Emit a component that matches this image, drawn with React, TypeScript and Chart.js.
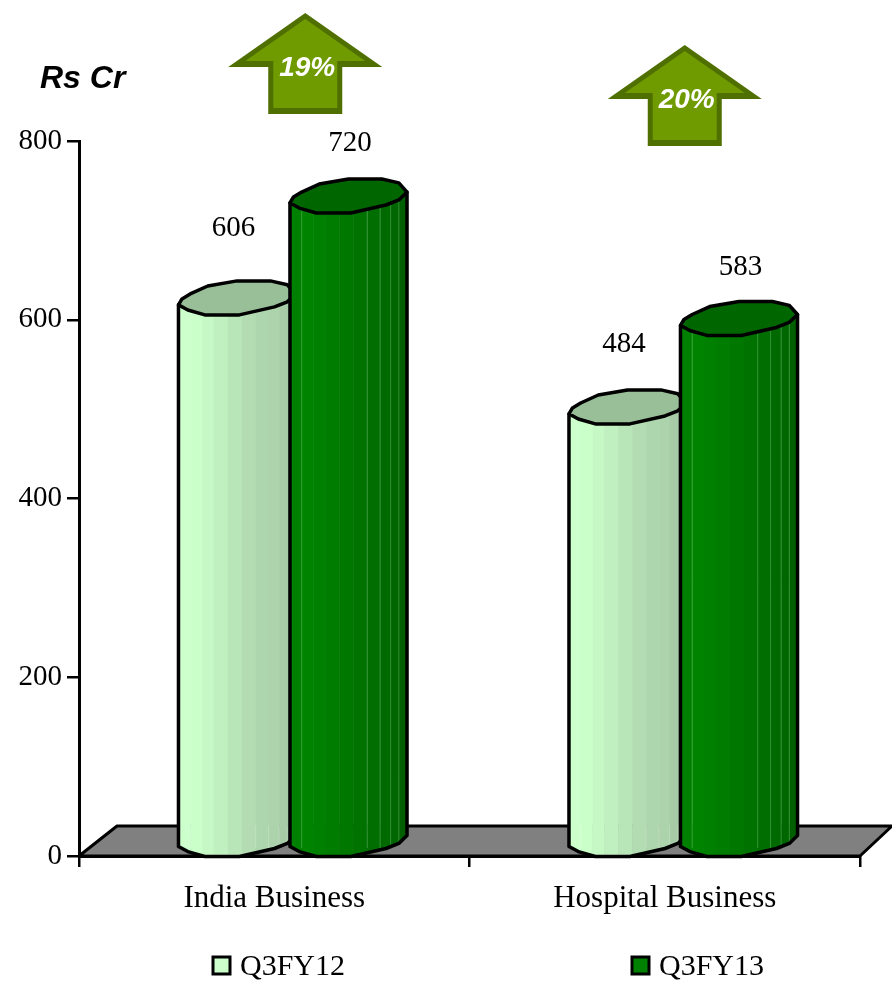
import React, { useEffect, useRef } from "react";
import { Chart, registerables } from "chart.js";

Chart.register(...registerables);

const categories = ["India Business", "Hospital Business"];
const seriesNames = ["Q3FY12", "Q3FY13"];
const q3fy12 = [606, 484];
const q3fy13 = [720, 583];
const growthLabels = ["19%", "20%"];
const yTicks = [0, 200, 400, 600, 800];
const unitLabel = "Rs Cr";

const SERIF = "'Liberation Serif', serif";
const SANS = "'Liberation Sans', sans-serif";

const lightBands = ["#ccffcc", "#caffca", "#c6f8c6", "#c0f0c0", "#b9e6b9", "#b3dcb3", "#aed6ae", "#acd3ac", "#a6cba6", "#a0c3a0"];
const darkBands = ["#008000", "#008400", "#008000", "#007c00", "#007800", "#007200", "#006e00", "#006a00", "#006600", "#006000"];
const bandEdges = [0, 0.1, 0.2, 0.3, 0.42, 0.54, 0.66, 0.77, 0.86, 0.93, 1];
const lightTop = "#99bf99";
const darkTop = "#006600";
const labelLift = [[86, 79], [69, 68]];
const labelShift = [15, 20];

// outline of the tilted polygonal cylinder cap, in half-width/half-height units
const capShape: [number, number][] = [
  [-1, 0.38], [-0.94, 0.03], [-0.8, -0.26], [-0.5, -0.73], [0, -1.03], [0.57, -1.03], [0.86, -0.8],
  [1, -0.26], [0.86, 0.2], [0.64, 0.5], [0.04, 0.97], [-0.55, 0.97], [-0.84, 0.68],
];
const frontCurve: [number, number][] = [
  [1, -0.26], [0.86, 0.2], [0.64, 0.5], [0.04, 0.97], [-0.55, 0.97], [-0.84, 0.68], [-1, 0.38],
];

function polygon(ctx: any, pts: number[][]) {
  ctx.beginPath();
  pts.forEach(([x, y], k) => (k === 0 ? ctx.moveTo(x, y) : ctx.lineTo(x, y)));
  ctx.closePath();
}

const cylinderPlugin = {
  id: "cylinders",
  beforeDatasetsDraw(chart: any) {
    const { ctx, chartArea: a } = chart;
    ctx.save();
    polygon(ctx, [[a.left, a.bottom], [a.left + 38, a.bottom - 30], [892, a.bottom - 30], [a.right, a.bottom]]);
    ctx.fillStyle = "#808080";
    ctx.fill();
    ctx.strokeStyle = "#000";
    ctx.lineWidth = 3;
    ctx.lineJoin = "round";
    ctx.stroke();
    ctx.restore();
  },
  afterDatasetsDraw(chart: any) {
    const { ctx, chartArea: a } = chart;
    const shiftX = 18.5;
    const hh = 17;
    chart.data.datasets.forEach((ds: any, di: number) => {
      const bands = di === 0 ? lightBands : darkBands;
      chart.getDatasetMeta(di).data.forEach((bar: any) => {
        const hw = (bar.width / 2) * 1.05;
        const cx = bar.x + shiftX;
        const topY = bar.y - 16;
        const baseY = a.bottom - 16;
        const bodyPath = () => {
          ctx.beginPath();
          ctx.moveTo(cx - hw, topY + 0.38 * hh);
          ctx.lineTo(cx + hw, topY - 0.26 * hh);
          frontCurve.forEach(([u, v]) => ctx.lineTo(cx + u * hw, baseY + v * hh));
          ctx.closePath();
        };
        ctx.save();
        bodyPath();
        ctx.save();
        ctx.clip();
        bands.forEach((c, b) => {
          const x0 = cx - hw + 2 * hw * bandEdges[b];
          const x1 = cx - hw + 2 * hw * bandEdges[b + 1];
          ctx.fillStyle = c;
          ctx.fillRect(x0, topY - hh, x1 - x0 + 0.5, baseY - topY + 2 * hh + 2);
        });
        // thin highlight lines between facets
        ctx.lineWidth = 1;
        [0.1, 0.66, 0.77, 0.86, 0.93].forEach((f) => {
          const x = cx - hw + 2 * hw * f;
          ctx.strokeStyle = di === 0 ? "rgba(255,255,255,0.22)" : "rgba(150,220,150,0.35)";
          ctx.beginPath();
          ctx.moveTo(x, di === 0 ? baseY - 15 : topY);
          ctx.lineTo(x, baseY + 8);
          ctx.stroke();
        });
        ctx.restore();
        bodyPath();
        ctx.strokeStyle = "#000";
        ctx.lineWidth = 3.5;
        ctx.lineJoin = "round";
        ctx.stroke();
        polygon(ctx, capShape.map(([u, v]) => [cx + u * hw, topY + v * hh]));
        ctx.fillStyle = di === 0 ? lightTop : darkTop;
        ctx.fill();
        ctx.stroke();
        ctx.restore();
      });
    });
    // value labels
    chart.data.datasets.forEach((ds: any, di: number) => {
      chart.getDatasetMeta(di).data.forEach((bar: any, i: number) => {
        ctx.save();
        ctx.font = `29px ${SERIF}`;
        ctx.fillStyle = "#000";
        ctx.textAlign = "center";
        ctx.textBaseline = "middle";
        ctx.fillText(String(ds.data[i]), bar.x + labelShift[di], bar.y - labelLift[di][i]);
        ctx.restore();
      });
    });
  },
  afterDraw(chart: any) {
    const { ctx, scales } = chart;
    // growth arrows
    const arrowOffsets = [31, 20];
    const arrowTops = [13, 45];
    growthLabels.forEach((label, i) => {
      const cx = scales.x.getPixelForValue(i) + arrowOffsets[i];
      const t = arrowTops[i];
      ctx.save();
      polygon(ctx, [[cx, t], [cx + 77, t + 54], [cx + 37, t + 54], [cx + 37, t + 101], [cx - 37, t + 101], [cx - 37, t + 54], [cx - 77, t + 54]]);
      ctx.fillStyle = "#4f6f00";
      ctx.fill();
      polygon(ctx, [[cx, t + 6], [cx + 60, t + 48], [cx + 32, t + 48], [cx + 32, t + 95], [cx - 32, t + 95], [cx - 32, t + 48], [cx - 60, t + 48]]);
      ctx.fillStyle = "#6f9a00";
      ctx.fill();
      ctx.fillStyle = "#fff";
      ctx.font = `italic bold 28px ${SANS}`;
      ctx.textAlign = "center";
      ctx.textBaseline = "middle";
      ctx.fillText(label, cx + 2, t + 55);
      ctx.restore();
    });
    // unit label
    ctx.save();
    ctx.fillStyle = "#000";
    ctx.font = `italic bold 32px ${SANS}`;
    ctx.textAlign = "left";
    ctx.textBaseline = "middle";
    ctx.fillText(unitLabel, 40, 79);
    // legend
    const legendBoxX = [213, 632];
    seriesNames.forEach((name, i) => {
      const x = legendBoxX[i];
      ctx.fillStyle = i === 0 ? "#ccffcc" : "#008000";
      ctx.strokeStyle = "#000";
      ctx.lineWidth = 3;
      ctx.fillRect(x, 957, 17, 17);
      ctx.strokeRect(x, 957, 17, 17);
      ctx.fillStyle = "#000";
      ctx.font = `30px ${SERIF}`;
      ctx.textBaseline = "middle";
      ctx.fillText(name, x + 27, 967);
    });
    ctx.restore();
  },
};

export default function App() {
  const ref = useRef<HTMLCanvasElement>(null);
  useEffect(() => {
    const chart = new Chart(ref.current as HTMLCanvasElement, {
      type: "bar",
      data: {
        labels: categories,
        datasets: [
          { label: seriesNames[0], data: q3fy12, backgroundColor: "rgba(0,0,0,0)", categoryPercentage: 0.571, barPercentage: 1 },
          { label: seriesNames[1], data: q3fy13, backgroundColor: "rgba(0,0,0,0)", categoryPercentage: 0.571, barPercentage: 1 },
        ],
      },
      plugins: [cylinderPlugin],
      options: {
        animation: false,
        responsive: false,
        devicePixelRatio: 1,
        layout: { padding: { left: 0, top: 141, right: 32, bottom: 56 } },
        plugins: { legend: { display: false }, tooltip: { enabled: false }, title: { display: false } },
        scales: {
          x: {
            afterFit: (s: any) => { s.height = 70; },
            border: { color: "#000", width: 3 },
            grid: { drawOnChartArea: false, color: "#000", lineWidth: 2.5, tickLength: 11 },
            ticks: { color: "#000", font: { family: SERIF, size: 31 }, padding: 13, maxRotation: 0 },
          },
          y: {
            min: 0,
            max: 800,
            afterFit: (s: any) => { s.width = 79; },
            afterBuildTicks: (s: any) => { s.ticks = yTicks.map((value) => ({ value })); },
            border: { color: "#000", width: 3 },
            grid: { drawOnChartArea: false, color: "#000", lineWidth: 2.5, tickLength: 12 },
            ticks: { color: "#000", font: { family: SERIF, size: 29 }, padding: 5 },
          },
        },
      },
    } as any);
    return () => chart.destroy();
  }, []);
  return (
    <div style={{ position: "absolute", left: 0, top: 0, width: 892, height: 982, background: "#fff" }}>
      <canvas ref={ref} width={892} height={982} style={{ display: "block" }} />
    </div>
  );
}
